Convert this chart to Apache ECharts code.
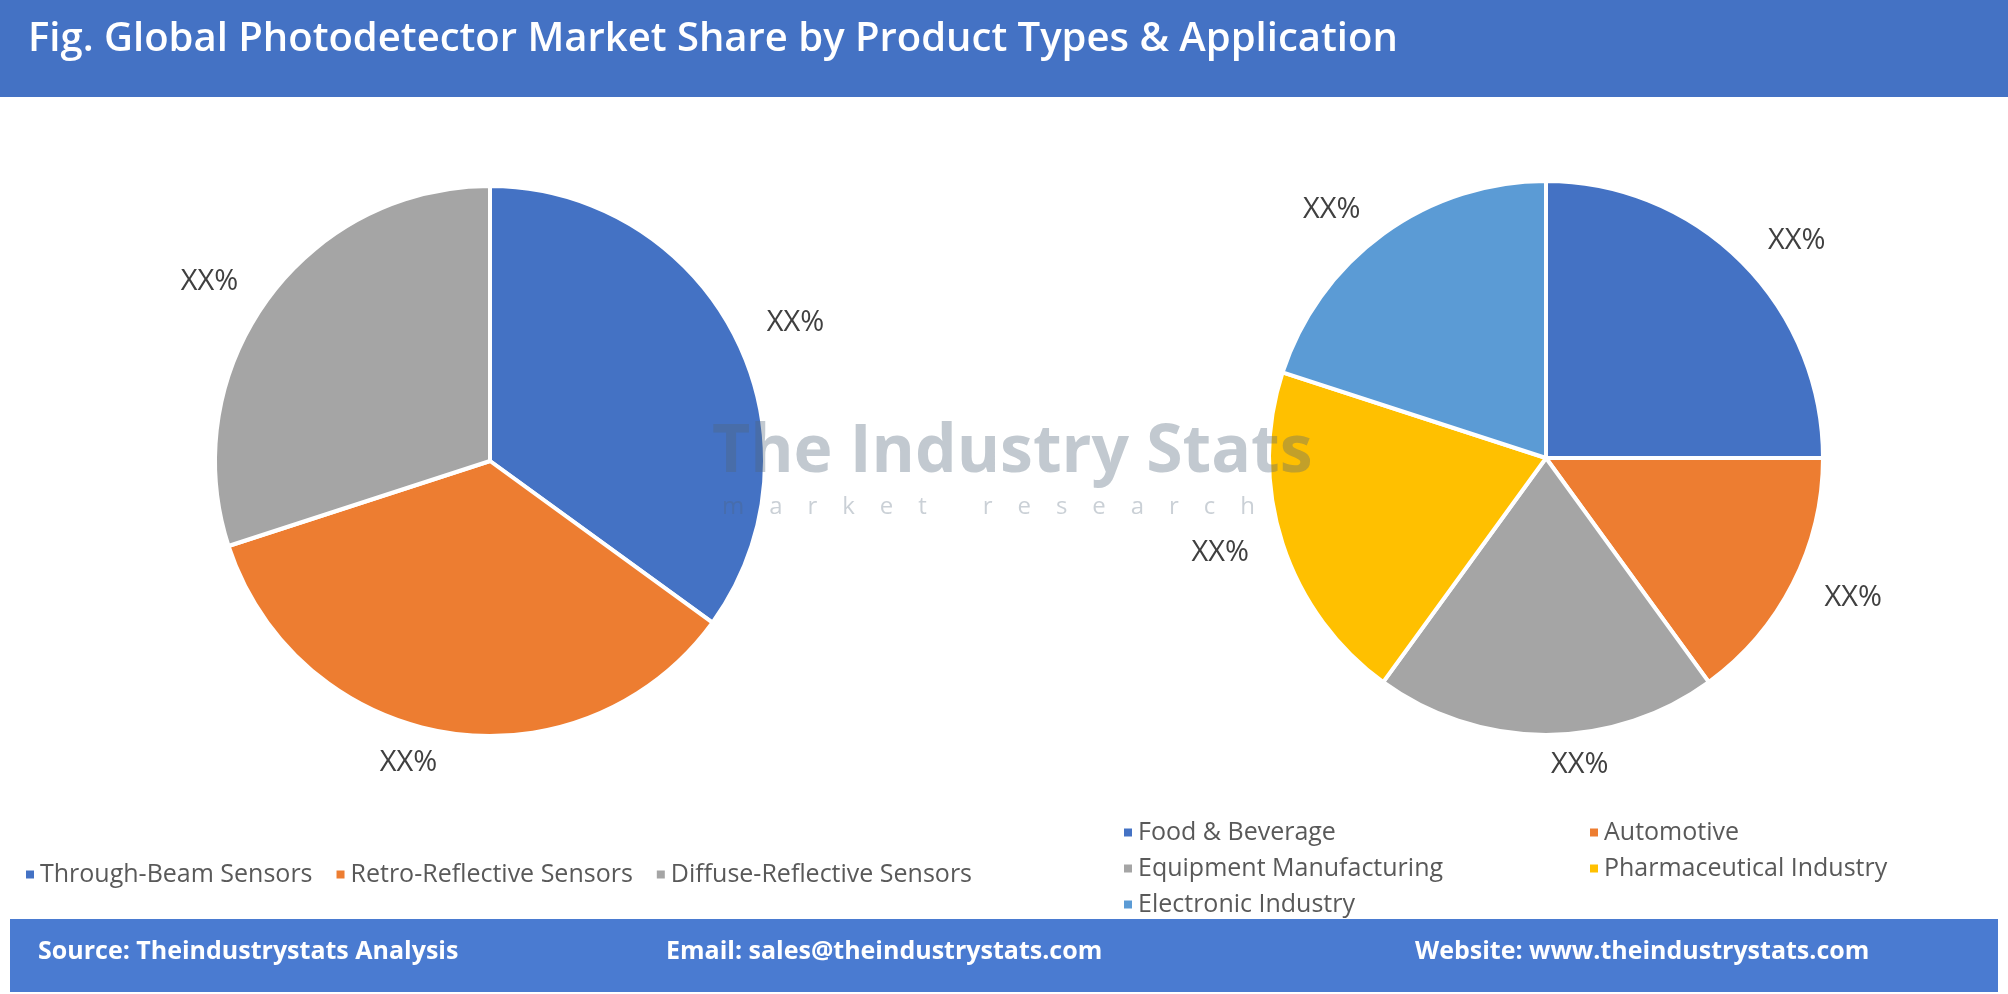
<!DOCTYPE html>
<html><head><meta charset="utf-8">
<script src="https://cdn.jsdelivr.net/npm/echarts@6/dist/echarts.min.js"></script>
<style>html,body{margin:0;padding:0;background:#fff}#c{width:2008px;height:994px}</style>
</head><body><div id="c"></div>
<script>
const productTypes = ['Through-Beam Sensors','Retro-Reflective Sensors','Diffuse-Reflective Sensors'];
const productValues = [35, 35, 30];
const applications = ['Food & Beverage','Automotive','Equipment Manufacturing','Pharmaceutical Industry','Electronic Industry'];
const applicationValues = [25, 15, 20, 20, 20];
const colors = ['#4472C4','#ED7D31','#A5A5A5','#FFC000','#5B9BD5'];
const F = '"Open Sans", "Liberation Sans", sans-serif';
const chart = echarts.init(document.getElementById('c'));
const lbl = {show:true, position:'outside', formatter:'XX%', fontSize:29, color:'#404040', fontFamily:F};
const legText = {fontSize:25, color:'#595959', fontFamily:F};
function leg(names, left, top){return {data:names, left:left, top:top, icon:'rect', itemWidth:10, itemHeight:10, itemGap:22, textStyle:legText, selectedMode:false};}
chart.setOption({
  graphic:[
    {type:'rect', shape:{x:0,y:0,width:2008,height:97}, style:{fill:'#4472C4'}},
    {type:'text', left:28, top:20, style:{text:'Fig. Global Photodetector Market Share by Product Types & Application', fill:'#fff', font:'600 40px '+F}},
    {type:'rect', shape:{x:10,y:919,width:1988,height:73}, style:{fill:'#4A7BD1'}},
    {type:'text', left:38, top:939, style:{text:'Source: Theindustrystats Analysis', fill:'#fff', font:'bold 25px '+F}},
    {type:'text', left:666, top:939, style:{text:'Email: sales@theindustrystats.com', fill:'#fff', font:'bold 25px '+F}},
    {type:'text', left:1415, top:939, style:{text:'Website: www.theindustrystats.com', fill:'#fff', font:'bold 25px '+F}},
    {type:'text', left:712, top:420, z:100, style:{text:'The Industry Stats', fill:'rgba(80,100,120,0.35)', font:'bold 66px '+F}},
    {type:'text', left:722, top:495, z:100, style:{text:'m    a    r    k    e    t         r    e    s    e    a    r    c    h', fill:'rgba(80,100,120,0.3)', font:'24px '+F}}
  ],
  legend:[
    leg(productTypes, 19, 857),
    leg(['Food & Beverage'], 1117, 815),
    leg(['Automotive'], 1583, 815),
    leg(['Equipment Manufacturing'], 1117, 851),
    leg(['Pharmaceutical Industry'], 1583, 851),
    leg(['Electronic Industry'], 1117, 887)
  ],
  series:[
    {type:'pie', center:[490,461], radius:275, startAngle:90, clockwise:true, label:lbl, labelLine:{show:false, length:30, length2:0},
     itemStyle:{borderColor:'#fff', borderWidth:4}, emphasis:{disabled:true},
     data: productTypes.map((n,i)=>({name:n, value:productValues[i], itemStyle:{color:colors[i]}}))},
    {type:'pie', center:[1546,458], radius:277, startAngle:90, clockwise:true, label:lbl, labelLine:{show:false, length:30, length2:0},
     itemStyle:{borderColor:'#fff', borderWidth:4}, emphasis:{disabled:true},
     data: applications.map((n,i)=>({name:n, value:applicationValues[i], itemStyle:{color:colors[i]}}))}
  ]
});
</script></body></html>
